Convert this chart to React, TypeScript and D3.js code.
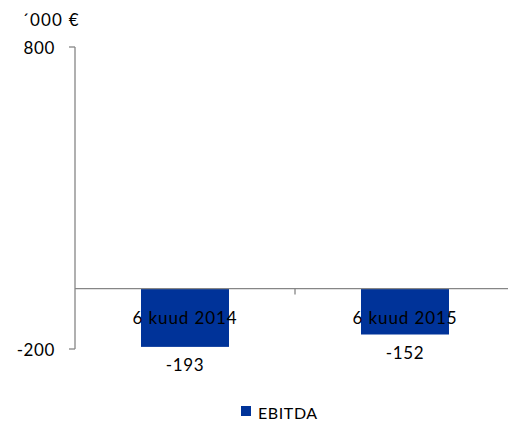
import * as d3 from "d3";

const categories = ["6 kuud 2014", "6 kuud 2015"];
const ebitda = [-193, -152];
const yTicks = [800, -200];
const unitLabel = "´000 €";
const seriesName = "EBITDA";

const W = 508;
const H = 425;
const FONT = "Lato, 'Open Sans', sans-serif";

export default function App() {
  const x = d3.scaleBand<string>().domain(categories).range([75, 515]).paddingInner(0.6).paddingOuter(0.3);
  const y = d3.scaleLinear().domain([-200, 800]).range([349, 47]);
  const zero = y(0);
  const txt = { fontSize: 17, fill: "#000", letterSpacing: 0.9 };

  return (
    <svg width={W} height={H} style={{ position: "absolute", left: 0, top: 0, fontFamily: FONT }}>
      <rect width={W} height={H} fill="#fff" />
      {/* value axis */}
      <line x1={75} x2={75} y1={y(800)} y2={y(-200)} stroke="#868686" strokeWidth={1.3} />
      {yTicks.map((t) => (
        <g key={t}>
          <line x1={69} x2={75} y1={y(t)} y2={y(t)} stroke="#868686" strokeWidth={1.3} />
          <text x={55} y={y(t)} textAnchor="end" dominantBaseline="central" {...txt} letterSpacing={0.6}>
            {t}
          </text>
        </g>
      ))}
      <text x={22} y={19} dominantBaseline="central" {...txt} letterSpacing={1.2}>
        {unitLabel}
      </text>
      {/* bars */}
      {categories.map((c, i) => (
        <rect
          key={c}
          x={x(c)}
          y={zero}
          width={x.bandwidth()}
          height={y(ebitda[i]) - zero}
          fill="#003399"
        />
      ))}
      {/* category axis */}
      <line x1={75} x2={W} y1={zero} y2={zero} stroke="#868686" strokeWidth={1.3} />
      <line x1={295} x2={295} y1={zero} y2={zero + 6} stroke="#868686" strokeWidth={1.3} />
      {categories.map((c) => (
        <text
          key={c}
          x={(x(c) ?? 0) + x.bandwidth() / 2}
          y={317}
          textAnchor="middle"
          dominantBaseline="central"
          {...txt}
        >
          {c}
        </text>
      ))}
      {/* data labels */}
      {categories.map((c, i) => (
        <text
          key={c}
          x={(x(c) ?? 0) + x.bandwidth() / 2}
          y={y(ebitda[i]) + 18}
          textAnchor="middle"
          dominantBaseline="central"
          {...txt}
          letterSpacing={0.6}
        >
          {ebitda[i]}
        </text>
      ))}
      {/* legend */}
      <rect x={241} y={406} width={10} height={10} fill="#003399" />
      <text x={258} y={412} dominantBaseline="central" fontSize={16} fill="#000" letterSpacing={0.6}>
        {seriesName}
      </text>
    </svg>
  );
}
